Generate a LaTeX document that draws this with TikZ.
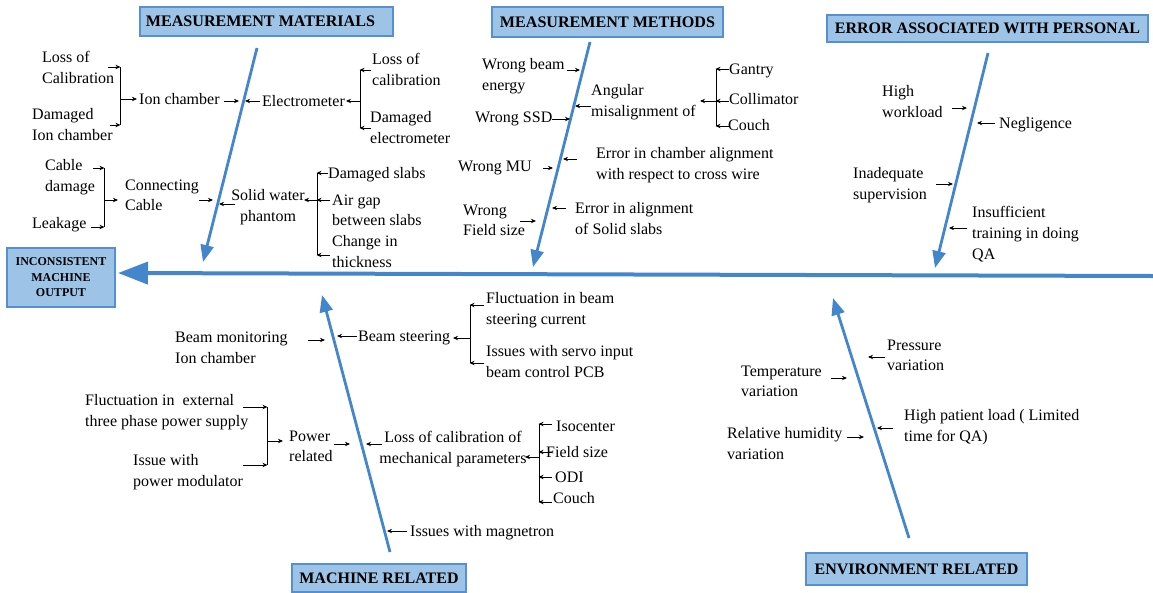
\documentclass[tikz,border=0pt]{standalone}
\usepackage{fontspec}
\setmainfont{Liberation Serif}
\usetikzlibrary{arrows.meta}
\definecolor{boneblue}{RGB}{68,134,204}
\definecolor{boxfill}{RGB}{157,195,230}
\definecolor{boxdraw}{RGB}{85,145,210}
\tikzset{
  txt/.style={font=\fontsize{16}{20.7}\selectfont, align=left, inner sep=0pt, anchor=north west},
  ctxt/.style={txt, align=center, anchor=north},
  title/.style={draw=boxdraw, fill=boxfill, line width=1.4pt, inner sep=0pt, font=\bfseries\fontsize{16}{19}\selectfont},
  bigtitle/.style={title, font=\bfseries\fontsize{16.1}{19}\selectfont},
  bone/.style={draw=boneblue, line width=2.8pt, -{Triangle[length=17pt,width=13pt]}},
  spine/.style={draw=boneblue, line width=4pt, -{Triangle[length=30pt,width=22pt]}},
  sarr/.style={line width=0.9pt, -{Stealth[length=5pt,width=4.4pt]}},
  brk/.style={line width=1pt}
}
\begin{document}
\begin{tikzpicture}[x=1pt,y=-1pt]
\useasboundingbox (0,0) rectangle (1153,592);

% ---------- title boxes ----------
\node[bigtitle, minimum width=253pt, minimum height=29pt] (tMat) at (266.5,21.5) {MEASUREMENT MATERIALS\hspace*{12pt}};
\node[bigtitle, minimum width=231pt, minimum height=30pt] (tMet) at (607.5,22) {MEASUREMENT METHODS};
\node[title, minimum width=321pt, minimum height=27pt] (tPer) at (987.5,28.5) {ERROR ASSOCIATED WITH PERSONAL};
\node[title, minimum width=174pt, minimum height=28pt] (tMac) at (379,578) {MACHINE RELATED};
\node[title, minimum width=221pt, minimum height=32pt] (tEnv) at (916.5,569) {ENVIRONMENT RELATED};
\node[title, minimum width=108pt, minimum height=59pt, align=center, font=\bfseries\fontsize{12}{15.5}\selectfont] (head) at (61,277.5) {INCONSISTENT\\MACHINE\\OUTPUT};

% ---------- spine and bones ----------
\coordinate (spR) at (1153,276);
\coordinate (spTip) at (118,273);
\draw[spine] (spR) -- (spTip);
\coordinate (bMatT) at (257,48);   \coordinate (bMatH) at (203,262);
\coordinate (bMetT) at (590,42);   \coordinate (bMetH) at (533,267);
\coordinate (bPerT) at (988,53);   \coordinate (bPerH) at (935,268);
\coordinate (bMacB) at (390,552);  \coordinate (bMacH) at (322,295);
\coordinate (bEnvB) at (909,538);  \coordinate (bEnvH) at (833,298);
\draw[bone] (bMatT) -- (bMatH);
\draw[bone] (bMetT) -- (bMetH);
\draw[bone] (bPerT) -- (bPerH);
\draw[bone] (bMacB) -- (bMacH);
\draw[bone] (bEnvB) -- (bEnvH);

% ---------- measurement materials ----------
\node[txt] (lc)  at (42,51.5)  {Loss of\\Calibration};
\node[txt] (dic) at (32,108.5) {Damaged\\Ion chamber};
\node[txt] (ionch) at (139,93.5) {Ion chamber};
\node[txt] (elec) at (262,95.5) {Electrometer};
\node[txt] (lcal) at (372,53.5) {Loss of\\calibration};
\node[txt] (dele) at (370,111.5) {Damaged\\electrometer};
\node[txt] (cd)  at (45,159.5) {Cable\\damage};
\node[txt] (leak) at (32,217.5) {Leakage};
\node[txt] (cc)  at (125,179.5) {Connecting\\Cable};
\node[ctxt] (swp) at (268,189.5) {Solid water\\phantom};
\node[txt] (ds)  at (328,167.5) {Damaged slabs};
\node[txt] (ag)  at (332,194.5) {Air gap\\between slabs};
\node[txt] (cit) at (332,235.5) {Change in\\thickness};

\draw[brk] (120,67) -- (120,125);
\draw[sarr] (108,67) -- (120.5,67);
\draw[sarr] (110,125) -- (120.5,125);
\draw[sarr] (120,99) -- (137,99);
\draw[sarr] (224,101) -- (239,101);
\draw[sarr] (260,101) -- (245,101);
\draw[brk] (360,70) -- (360,128);
\draw[sarr] (360,101) -- (346,101);
\draw[sarr] (371,70) -- (359.5,70);
\draw[sarr] (371,128) -- (359.5,128);
\draw[brk] (104,168) -- (104,227);
\draw[sarr] (93,168) -- (104.5,168);
\draw[sarr] (91,227) -- (104.5,227);
\draw[sarr] (104,200) -- (118,200);
\draw[sarr] (199,200) -- (213,200);
\draw[sarr] (235,204) -- (219,204);
\draw[brk] (317,173) -- (317,255);
\draw[sarr] (317,200) -- (304,200);
\draw[sarr] (328,173) -- (316.5,173);
\draw[sarr] (330,200) -- (316.5,200);
\draw[sarr] (330,255) -- (316.5,255);

% ---------- measurement methods ----------
\node[txt] (wbe) at (482,58.5) {Wrong beam\\energy};
\node[txt] (am)  at (591,84.5) {Angular\\misalignment of};
\node[txt] (gan) at (729,63.5) {Gantry};
\node[txt] (col) at (729,93.5) {Collimator};
\node[txt] (cou) at (728,119.5) {Couch};
\node[txt] (wssd) at (475,111.5) {Wrong SSD};
\node[txt] (eca) at (596,147.5) {Error in chamber alignment\\with respect to cross wire};
\node[txt] (wmu) at (458,160.5) {Wrong MU};
\node[txt] (eas) at (575,202.5) {Error in alignment\\of Solid slabs};
\node[txt] (wfs) at (463,204.5) {Wrong\\Field size};

\draw[sarr] (567,70) -- (580,70);
\draw[sarr] (591,106) -- (575,106);
\draw[brk] (716,69) -- (716,126);
\draw[sarr] (716,101) -- (700,101);
\draw[sarr] (729,69) -- (715.5,69);
\draw[sarr] (729,101) -- (715.5,101);
\draw[sarr] (729,126) -- (715.5,126);
\draw[sarr] (552,119) -- (570,119);
\draw[sarr] (577,159) -- (563,159);
\draw[sarr] (543,168) -- (553,168);
\draw[sarr] (566,208) -- (552,208);
\draw[sarr] (520,221) -- (536,221);

% ---------- personal ----------
\node[txt] (hw)  at (882,85.5) {High\\workload};
\node[txt] (neg) at (999,117.5) {Negligence};
\node[txt] (inq) at (853,167.5) {Inadequate\\supervision};
\node[txt] (ist) at (972,206.5) {Insufficient\\training in doing\\QA};

\draw[sarr] (952,108) -- (967,108);
\draw[sarr] (995,123) -- (977,123);
\draw[sarr] (936,184) -- (953,184);
\draw[sarr] (967,228) -- (949,228);

% ---------- machine related ----------
\node[txt] (bmi) at (175,331.5) {Beam monitoring\\Ion chamber};
\node[txt] (bs)  at (358,330.5) {Beam steering};
\node[txt] (fbs) at (486,292.5) {Fluctuation in beam\\steering current};
\node[txt] (isi) at (486,345.5) {Issues with servo input\\beam control PCB};
\node[txt] (fext) at (85,394.5) {Fluctuation in\ \ external\\three phase power supply};
\node[txt] (ipm) at (133,454.5) {Issue with\\power modulator};
\node[txt] (pr)  at (289,430.5) {Power\\related};
\node[ctxt] (lcm) at (453,431.5) {Loss of calibration of\\mechanical parameters};
\node[txt] (iso) at (556,420.5) {Isocenter};
\node[txt] (fsz) at (546,446.5) {Field size};
\node[txt] (odi) at (555,471.5) {ODI};
\node[txt] (cch) at (553,492.5) {Couch};
\node[txt] (mag) at (410,525.5) {Issues with magnetron};

\draw[sarr] (308,340) -- (325,340);
\draw[sarr] (357,336) -- (337,336);
\draw[brk] (470,305) -- (470,363);
\draw[sarr] (470,338) -- (453,338);
\draw[sarr] (484,305) -- (469.5,305);
\draw[sarr] (484,363) -- (469.5,363);
\draw[brk] (267,407) -- (267,465);
\draw[sarr] (243,407) -- (267.5,407);
\draw[sarr] (243,465) -- (267.5,465);
\draw[sarr] (267,441) -- (283,441);
\draw[sarr] (334,444) -- (350,444);
\draw[sarr] (382,444) -- (366,444);
\draw[brk] (539,424) -- (539,502);
\draw[sarr] (539,457) -- (525,457);
\draw[sarr] (552,424) -- (538.5,424);
\draw[sarr] (552,452) -- (538.5,452);
\draw[sarr] (552,477) -- (538.5,477);
\draw[sarr] (552,502) -- (538.5,502);
\draw[sarr] (407,531) -- (387,531);

% ---------- environment ----------
\node[txt] (pv)  at (887,339.5) {Pressure\\variation};
\node[txt] (tv)  at (741,365.5) {Temperature\\variation};
\node[txt] (hpl) at (904,409.5) {High patient load ( Limited\\time for QA)};
\node[txt] (rhv) at (727,427.5) {Relative humidity\\variation};

\draw[sarr] (885,357) -- (868,357);
\draw[sarr] (831,378) -- (847,378);
\draw[sarr] (893,428) -- (877,428);
\draw[sarr] (847,437) -- (864,437);
\end{tikzpicture}
\end{document}
